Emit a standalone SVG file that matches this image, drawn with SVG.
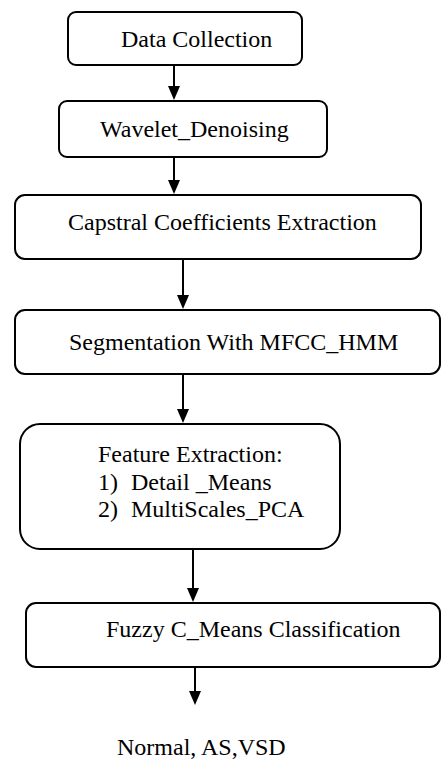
<svg xmlns="http://www.w3.org/2000/svg" width="441" height="760" viewBox="0 0 441 760">
  <style>
    .box { fill: #ffffff; stroke: #000000; stroke-width: 2; }
    .lbl { font-family: "Liberation Serif", "Times New Roman", serif; font-size: 24px; fill: #000000; }
    .conn { stroke: #000000; stroke-width: 2; fill: none; marker-end: url(#arrow); }
  </style>
  <defs>
    <marker id="arrow" viewBox="0 0 14 12" refX="10" refY="6" markerWidth="14" markerHeight="12" markerUnits="userSpaceOnUse" orient="auto">
      <path d="M0,0 L14,6 L0,12 Z" fill="#000000"/>
    </marker>
  </defs>
  <rect width="441" height="760" fill="#ffffff"/>

  <g id="connectors">
    <line class="conn" x1="174" y1="65" x2="174" y2="96"/>
    <line class="conn" x1="174" y1="157" x2="174" y2="190"/>
    <line class="conn" x1="183" y1="259" x2="183" y2="305"/>
    <line class="conn" x1="183" y1="374" x2="183" y2="419"/>
    <line class="conn" x1="193" y1="549" x2="193" y2="598"/>
    <line class="conn" x1="195" y1="657" x2="195" y2="701"/>
  </g>

  <g id="data-collection">
    <rect class="box" x="68" y="12" width="234" height="53" rx="8"/>
    <text class="lbl" x="121" y="47">Data Collection</text>
  </g>
  <g id="wavelet-denoising">
    <rect class="box" x="59" y="101" width="268" height="56" rx="8"/>
    <text class="lbl" x="100" y="137">Wavelet_Denoising</text>
  </g>
  <g id="capstral">
    <rect class="box" x="15" y="195" width="406" height="64" rx="10"/>
    <text class="lbl" x="68" y="230">Capstral Coefficients Extraction</text>
  </g>
  <g id="segmentation">
    <rect class="box" x="15" y="310" width="425" height="64" rx="10"/>
    <text class="lbl" x="69" y="350">Segmentation With MFCC_HMM</text>
  </g>
  <g id="feature-extraction">
    <rect class="box" x="20" y="424" width="320" height="125" rx="20"/>
    <text class="lbl" x="98" y="462">Feature Extraction:</text>
    <text class="lbl" y="490"><tspan x="98">1)</tspan><tspan x="131">Detail _Means</tspan></text>
    <text class="lbl" y="517"><tspan x="98">2)</tspan><tspan x="131">MultiScales_PCA</tspan></text>
  </g>
  <g id="fuzzy-classification">
    <rect class="box" x="26" y="603" width="414" height="64" rx="10"/>
    <text class="lbl" x="106" y="637">Fuzzy C_Means Classification</text>
  </g>
  <g id="output">
    <text class="lbl" x="117" y="755">Normal, AS,VSD</text>
  </g>
</svg>
